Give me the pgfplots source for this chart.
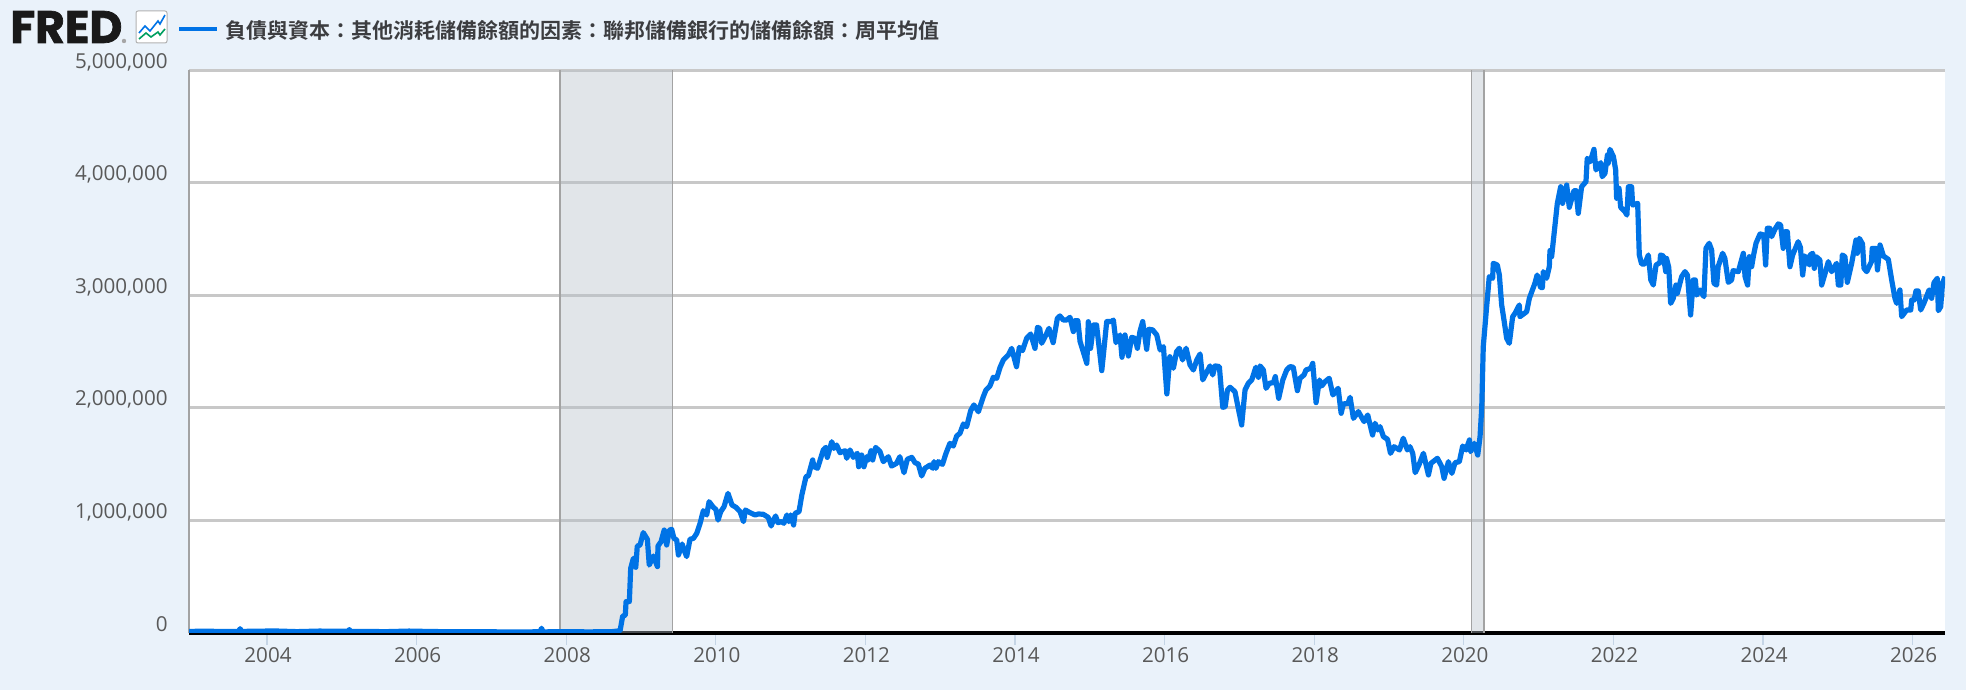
\documentclass[border=0pt]{standalone}
\usepackage{fontspec}
\setmainfont{Open Sans}
\newfontfamily\cjk{Noto Sans CJK TC}[BoldFont={* Bold}]
\newfontfamily\logofont{Poppins}[BoldFont={* Bold}, BoldFeatures={FakeBold=1.5}]
\usepackage{pgfplots}
\pgfplotsset{compat=1.18}
\definecolor{fredbg}{HTML}{EAF2FA}
\definecolor{fredline}{HTML}{0073E6}
\definecolor{fredgrid}{HTML}{C8C8C8}
\definecolor{fredtext}{HTML}{595959}
\definecolor{fredleg}{HTML}{3C3D40}
\definecolor{fredtick}{HTML}{C5D5E6}
\definecolor{fredband}{RGB}{180,192,202}
\definecolor{fredrec}{HTML}{A3A3A3}

\begin{document}
\begin{tikzpicture}
\useasboundingbox (0,0) rectangle (983pt,345pt);
\fill[fredbg] (0,0) rectangle (983pt,345pt);
\begin{axis}[
    at={(94.5pt,28.5pt)}, anchor=south west,
    scale only axis, width=878pt, height=281.25pt,
    xmin=2002.957, xmax=2026.433, ymin=0, ymax=5000000,
    axis background/.style={fill=white},
    axis lines=left,
    axis line style={-},
    x axis line style={black, line width=2pt},
    y axis line style={fredrec, line width=1pt},
    xtick={2004,2006,...,2026},
    ytick={0,1000000,...,5000000},
    ymajorgrids,
    grid style={fredgrid, line width=1.5pt},
    xtick style={fredtick, line width=0.6pt},
    ytick style={draw=none},
    tick align=outside,
    major tick length=6pt,
    scaled y ticks=false,
    /pgf/number format/assume math mode=true,
    xticklabel style={/pgf/number format/1000 sep={}, font=\fontsize{10.3}{12}\selectfont, text=fredtext, anchor=center, yshift=-5pt, xshift=0.5pt},
    yticklabel style={/pgf/number format/fixed, /pgf/number format/1000 sep={,}, font=\fontsize{10.3}{12}\selectfont, text=fredtext, anchor=east, xshift=-1.2pt, yshift=4.2pt},
]
\addplot[draw=none, fill=fredband, fill opacity=0.4] coordinates {(2007.92,0) (2007.92,5000000) (2009.42,5000000) (2009.42,0)} \closedcycle;
\addplot[draw=none, fill=fredband, fill opacity=0.4] coordinates {(2020.10,0) (2020.10,5000000) (2020.27,5000000) (2020.27,0)} \closedcycle;
\addplot[fredrec, line width=0.8pt] coordinates {(2007.92,0) (2007.92,5000000)};
\addplot[fredrec, line width=0.8pt] coordinates {(2009.42,0) (2009.42,5000000)};
\addplot[fredrec, line width=0.8pt] coordinates {(2020.10,0) (2020.10,5000000)};
\addplot[fredrec, line width=0.8pt] coordinates {(2020.27,0) (2020.27,5000000)};
\addplot[fredline, line width=2.6pt, line join=round] table[row sep=\\] {
x y\\
2002.96 14000\\ 2003.2 16000\\ 2003.4 13000\\ 2003.62 14000\\ 2003.64 38000\\ 2003.66 14000\\ 2004.1 18000\\ 2004.4 12000\\ 2004.7 17000\\
2005.08 15000\\ 2005.1 30000\\ 2005.12 14000\\ 2005.6 12000\\ 2005.9 17000\\ 2006.2 13000\\ 2006.5 11000\\ 2006.8 12000\\ 2007.1 10000\\
2007.4 9000\\ 2007.65 11000\\ 2007.67 42000\\ 2007.69 10000\\ 2008.0 11000\\ 2008.3 10000\\ 2008.6 11000\\ 2008.72 20000\\
2008.755 151000\\ 2008.79 157000\\ 2008.80 279000\\ 2008.844 279000\\ 2008.862 575000\\ 2008.898 664000\\ 2008.93 584000\\ 2008.95 773000\\
2008.987 782000\\ 2009.03 892000\\ 2009.085 833000\\ 2009.11 604000\\ 2009.165 684000\\ 2009.22 590000\\ 2009.227 773000\\ 2009.268 812000\\
2009.31 915000\\ 2009.343 782000\\ 2009.38 915000\\ 2009.41 921000\\ 2009.44 841000\\ 2009.477 827000\\ 2009.50 693000\\ 2009.55 791000\\
2009.575 738000\\ 2009.61 679000\\ 2009.655 833000\\ 2009.70 841000\\ 2009.745 886000\\ 2009.79 975000\\ 2009.833 1087000\\ 2009.878 1049000\\
2009.91 1167000\\ 2009.967 1117000\\ 2010.0 1099000\\ 2010.03 1004000\\ 2010.065 1078000\\ 2010.11 1123000\\ 2010.163 1241000\\ 2010.216 1138000\\
2010.27 1117000\\ 2010.325 1078000\\ 2010.37 990000\\ 2010.395 1093000\\ 2010.457 1070000\\ 2010.525 1049000\\ 2010.57 1058000\\ 2010.635 1055000\\
2010.70 1028000\\ 2010.74 951000\\ 2010.77 1004000\\ 2010.80 1040000\\ 2010.83 981000\\ 2010.88 990000\\ 2010.91 975000\\ 2010.95 1049000\\
2010.975 990000\\ 2011.0 1049000\\ 2011.04 960000\\ 2011.06 1064000\\ 2011.112 1078000\\ 2011.15 1227000\\ 2011.206 1390000\\ 2011.237 1396000\\
2011.295 1538000\\ 2011.312 1479000\\ 2011.36 1464000\\ 2011.437 1627000\\ 2011.47 1650000\\ 2011.49 1561000\\ 2011.55 1700000\\ 2011.58 1641000\\
2011.615 1671000\\ 2011.66 1603000\\ 2011.727 1620000\\ 2011.75 1553000\\ 2011.794 1627000\\ 2011.838 1561000\\ 2011.892 1597000\\ 2011.91 1478000\\
2011.95 1582000\\ 2011.98 1478000\\ 2012.017 1567000\\ 2012.04 1538000\\ 2012.075 1620000\\ 2012.097 1538000\\ 2012.137 1650000\\ 2012.195 1612000\\
2012.24 1523000\\ 2012.306 1567000\\ 2012.35 1484000\\ 2012.417 1508000\\ 2012.46 1567000\\ 2012.516 1425000\\ 2012.56 1544000\\ 2012.62 1561000\\
2012.663 1514000\\ 2012.707 1502000\\ 2012.752 1396000\\ 2012.796 1464000\\ 2012.863 1493000\\ 2012.90 1464000\\ 2012.917 1523000\\ 2012.943 1464000\\
2012.975 1523000\\ 2013.03 1499000\\ 2013.077 1597000\\ 2013.13 1686000\\ 2013.175 1662000\\ 2013.22 1751000\\ 2013.264 1775000\\ 2013.31 1858000\\
2013.353 1834000\\ 2013.407 1976000\\ 2013.45 2027000\\ 2013.51 1967000\\ 2013.576 2101000\\ 2013.612 2160000\\ 2013.665 2196000\\ 2013.71 2273000\\
2013.755 2264000\\ 2013.80 2361000\\ 2013.844 2427000\\ 2013.91 2471000\\ 2013.955 2530000\\ 2014.02 2367000\\ 2014.058 2539000\\ 2014.10 2510000\\
2014.156 2620000\\ 2014.21 2658000\\ 2014.267 2530000\\ 2014.30 2717000\\ 2014.33 2708000\\ 2014.356 2575000\\ 2014.414 2649000\\ 2014.454 2708000\\
2014.51 2581000\\ 2014.566 2797000\\ 2014.60 2818000\\ 2014.646 2782000\\ 2014.69 2782000\\ 2014.735 2806000\\ 2014.78 2679000\\ 2014.80 2776000\\
2014.84 2776000\\ 2014.87 2590000\\ 2014.905 2516000\\ 2014.96 2397000\\ 2014.98 2767000\\ 2015.01 2530000\\ 2015.05 2738000\\ 2015.09 2738000\\
2015.16 2332000\\ 2015.226 2768000\\ 2015.293 2768000\\ 2015.315 2782000\\ 2015.35 2581000\\ 2015.404 2649000\\ 2015.43 2451000\\ 2015.47 2649000\\
2015.516 2462000\\ 2015.56 2628000\\ 2015.605 2619000\\ 2015.636 2531000\\ 2015.67 2679000\\ 2015.707 2768000\\ 2015.76 2522000\\ 2015.79 2700000\\
2015.84 2694000\\ 2015.895 2649000\\ 2015.94 2516000\\ 2015.984 2545000\\ 2016.03 2125000\\ 2016.07 2456000\\ 2016.117 2353000\\ 2016.16 2501000\\
2016.197 2531000\\ 2016.24 2427000\\ 2016.287 2531000\\ 2016.34 2382000\\ 2016.385 2338000\\ 2016.43 2427000\\ 2016.474 2480000\\ 2016.51 2250000\\
2016.607 2374000\\ 2016.643 2294000\\ 2016.675 2374000\\ 2016.732 2368000\\ 2016.777 2006000\\ 2016.81 2012000\\ 2016.84 2160000\\ 2016.875 2184000\\
2016.94 2145000\\ 2017.03 1849000\\ 2017.075 2160000\\ 2017.12 2220000\\ 2017.164 2249000\\ 2017.22 2362000\\ 2017.254 2273000\\ 2017.276 2374000\\
2017.32 2338000\\ 2017.356 2175000\\ 2017.40 2220000\\ 2017.454 2225000\\ 2017.48 2279000\\ 2017.525 2086000\\ 2017.58 2249000\\ 2017.632 2338000\\
2017.677 2368000\\ 2017.72 2362000\\ 2017.775 2154000\\ 2017.81 2264000\\ 2017.864 2294000\\ 2017.89 2338000\\ 2017.954 2353000\\ 2017.98 2397000\\
2018.025 2048000\\ 2018.07 2249000\\ 2018.10 2196000\\ 2018.145 2234000\\ 2018.20 2264000\\ 2018.25 2116000\\ 2018.32 2175000\\ 2018.36 1953000\\
2018.39 2036000\\ 2018.45 2040000\\ 2018.48 2095000\\ 2018.524 1908000\\ 2018.59 1968000\\ 2018.667 1879000\\ 2018.715 1938000\\ 2018.78 1760000\\
2018.813 1864000\\ 2018.85 1805000\\ 2018.88 1834000\\ 2018.925 1745000\\ 2018.98 1722000\\ 2019.02 1597000\\ 2019.067 1656000\\ 2019.14 1627000\\
2019.19 1731000\\ 2019.245 1627000\\ 2019.28 1656000\\ 2019.317 1597000\\ 2019.35 1425000\\ 2019.40 1494000\\ 2019.46 1597000\\ 2019.527 1405000\\
2019.56 1508000\\ 2019.647 1553000\\ 2019.705 1479000\\ 2019.736 1375000\\ 2019.794 1523000\\ 2019.84 1419000\\ 2019.883 1514000\\ 2019.94 1523000\\
2019.985 1662000\\ 2020.03 1627000\\ 2020.075 1716000\\ 2020.09 1612000\\ 2020.14 1686000\\ 2020.186 1582000\\ 2020.217 1745000\\ 2020.24 2012000\\
2020.26 2545000\\ 2020.305 2900000\\ 2020.34 3167000\\ 2020.385 3153000\\ 2020.394 3286000\\ 2020.448 3271000\\ 2020.475 3182000\\ 2020.506 2916000\\
2020.537 2782000\\ 2020.573 2619000\\ 2020.608 2575000\\ 2020.653 2812000\\ 2020.684 2841000\\ 2020.742 2916000\\ 2020.75 2812000\\ 2020.84 2856000\\
2020.876 2975000\\ 2020.95 3108000\\ 2020.98 3182000\\ 2021.027 3070000\\ 2021.05 3070000\\ 2021.063 3212000\\ 2021.107 3153000\\ 2021.143 3256000\\
2021.152 3399000\\ 2021.174 3345000\\ 2021.25 3819000\\ 2021.295 3967000\\ 2021.32 3819000\\ 2021.375 3982000\\ 2021.41 3784000\\ 2021.473 3932000\\
2021.50 3932000\\ 2021.53 3730000\\ 2021.575 3967000\\ 2021.633 4012000\\ 2021.65 4219000\\ 2021.69 4190000\\ 2021.74 4299000\\ 2021.767 4116000\\
2021.83 4181000\\ 2021.85 4056000\\ 2021.887 4086000\\ 2021.92 4249000\\ 2021.93 4175000\\ 2021.954 4299000\\ 2022.0 4234000\\ 2022.03 4116000\\
2022.043 3864000\\ 2022.075 3953000\\ 2022.097 3784000\\ 2022.155 3745000\\ 2022.18 3715000\\ 2022.2 3967000\\ 2022.243 3967000\\ 2022.257 3804000\\
2022.324 3819000\\ 2022.346 3360000\\ 2022.377 3280000\\ 2022.42 3280000\\ 2022.467 3360000\\ 2022.50 3138000\\ 2022.533 3093000\\ 2022.57 3271000\\
2022.622 3292000\\ 2022.63 3360000\\ 2022.667 3351000\\ 2022.70 3212000\\ 2022.71 3330000\\ 2022.74 3250000\\ 2022.765 2930000\\ 2022.80 2975000\\
2022.836 3093000\\ 2022.854 3019000\\ 2022.912 3167000\\ 2022.957 3212000\\ 2022.99 3180000\\ 2023.032 2827000\\ 2023.068 3138000\\ 2023.095 3138000\\
2023.113 3004000\\ 2023.157 3049000\\ 2023.21 2990000\\ 2023.237 3419000\\ 2023.28 3464000\\ 2023.313 3404000\\ 2023.344 3108000\\ 2023.38 3093000\\
2023.40 3256000\\ 2023.46 3375000\\ 2023.49 3330000\\ 2023.536 3117000\\ 2023.58 3138000\\ 2023.60 3221000\\ 2023.67 3212000\\ 2023.737 3375000\\
2023.76 3167000\\ 2023.794 3093000\\ 2023.817 3345000\\ 2023.848 3256000\\ 2023.87 3345000\\ 2023.906 3464000\\ 2023.96 3547000\\ 2024.01 3538000\\
2024.035 3271000\\ 2024.057 3597000\\ 2024.09 3597000\\ 2024.115 3523000\\ 2024.16 3590000\\ 2024.204 3636000\\ 2024.235 3627000\\ 2024.27 3419000\\
2024.294 3567000\\ 2024.325 3567000\\ 2024.36 3256000\\ 2024.396 3360000\\ 2024.47 3478000\\ 2024.50 3428000\\ 2024.53 3182000\\ 2024.56 3351000\\
2024.62 3271000\\ 2024.63 3360000\\ 2024.664 3375000\\ 2024.686 3241000\\ 2024.71 3345000\\ 2024.76 3316000\\ 2024.784 3093000\\ 2024.83 3197000\\
2024.873 3301000\\ 2024.917 3212000\\ 2024.984 3286000\\ 2025.007 3093000\\ 2025.04 3093000\\ 2025.06 3360000\\ 2025.095 3345000\\ 2025.127 3117000\\
2025.185 3286000\\ 2025.243 3493000\\ 2025.26 3375000\\ 2025.288 3508000\\ 2025.33 3458000\\ 2025.35 3241000\\ 2025.386 3212000\\ 2025.45 3301000\\
2025.46 3419000\\ 2025.51 3419000\\ 2025.53 3227000\\ 2025.564 3449000\\ 2025.61 3351000\\ 2025.675 3321000\\ 2025.72 3138000\\ 2025.764 2975000\\
2025.787 2930000\\ 2025.83 3049000\\ 2025.854 2812000\\ 2025.92 2871000\\ 2025.975 2871000\\ 2025.987 2960000\\ 2026.02 2960000\\ 2026.045 3040000\\
2026.075 3040000\\ 2026.108 2871000\\ 2026.15 2930000\\ 2026.22 3049000\\ 2026.254 2975000\\ 2026.286 3114000\\ 2026.33 3153000\\ 2026.344 2865000\\
2026.375 2900000\\ 2026.40 3108000\\ 2026.433 3167000\\
};
\end{axis}
% header strip, positions in reference pixels
\begin{scope}[shift={(0,345pt)}, x=0.5pt, y=-0.5pt]
\node[anchor=west, inner sep=0pt, text=black!90] at (10,27) {\resizebox{56pt}{!}{\logofont\bfseries FRED}};
\fill[gray!70] (124,41) circle (2.2);
\filldraw[fill=white, draw=gray!60, line width=0.5pt, rounded corners=1pt] (136,11) rectangle (167,43);
\draw[fredline, line width=0.8pt] (139,33) -- (145,26) -- (150,31) -- (158,21) -- (160,24) -- (165,15);
\draw[teal!75!green, line width=0.8pt] (139,39) -- (146,33) -- (151,37) -- (158,32) -- (160,35) -- (165,29);
\draw[fredline, line width=2.4pt] (179,29) -- (217,29);
\node[anchor=west, inner sep=0pt, text=fredleg] at (225,30) {\cjk\bfseries\fontsize{10.5}{12}\selectfont 負債與資本：其他消耗儲備餘額的因素：聯邦儲備銀行的儲備餘額：周平均值};
\end{scope}
\end{tikzpicture}
\end{document}
